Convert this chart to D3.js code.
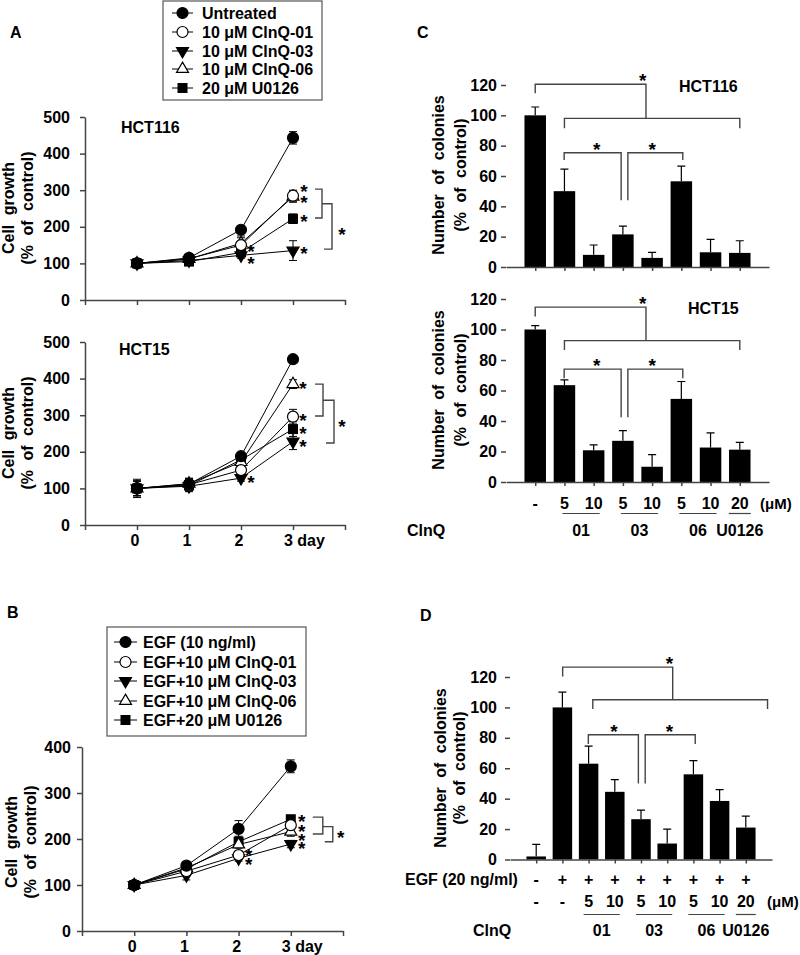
<!DOCTYPE html>
<html><head><meta charset="utf-8">
<script src="https://cdn.jsdelivr.net/npm/d3@7/dist/d3.min.js"></script>
<style>
body{margin:0;background:#fff}
text{font-family:"Liberation Sans",Arial,sans-serif;font-weight:bold;fill:#000}
</style>
</head><body>
<svg id="fig" width="800" height="955"></svg>
<script>
// ---------------- DATA ----------------
const days = [0, 1, 2, 3];
const dayLabels = ["0", "1", "2", "3 day"];
const growthTicksA = [0, 100, 200, 300, 400, 500];
const growthTicksB = [0, 100, 200, 300, 400];
const colonyTicks = [0, 20, 40, 60, 80, 100, 120];

const legendA = ["Untreated", "10 μM ClnQ-01", "10 μM ClnQ-03", "10 μM ClnQ-06", "20 μM U0126"];
const legendB = ["EGF (10 ng/ml)", "EGF+10 μM ClnQ-01", "EGF+10 μM ClnQ-03", "EGF+10 μM ClnQ-06", "EGF+20 μM U0126"];
const markerTypes = ["circle", "circleOpen", "triDown", "triUpOpen", "square"];

// Panel A, HCT116 (rows follow legendA)
const hct116Growth = [[100, 115, 192, 443], [100, 113, 150, 285], [100, 108, 122, 135], [100, 112, 155, 282], [100, 105, 130, 222]];
const hct116GrowthErr = [[12, 5, 8, 17], [10, 5, 20, 15], [10, 5, 8, 27], [10, 5, 20, 15], [10, 5, 8, 13]];
// Panel A, HCT15
const hct15Growth = [[100, 112, 188, 453], [100, 110, 150, 296], [100, 106, 128, 228], [100, 113, 172, 385], [100, 108, 178, 262]];
const hct15GrowthErr = [[25, 15, 8, 4], [20, 15, 8, 20], [20, 15, 8, 22], [20, 15, 8, 12], [20, 15, 8, 20]];
// Panel B, EGF
const egfGrowth = [[100, 142, 222, 358], [100, 130, 165, 230], [100, 121, 158, 189], [100, 137, 188, 216], [100, 135, 194, 243]];
const egfGrowthErr = [[5, 8, 18, 14], [5, 10, 8, 8], [5, 10, 6, 8], [5, 8, 8, 10], [5, 8, 12, 8]];

// Panel C
const doseC = ["-", "5", "10", "5", "10", "5", "10", "20"];
const groupsC = [{label: "01", from: 1, to: 2}, {label: "03", from: 3, to: 4}, {label: "06", from: 5, to: 6}, {label: "U0126", from: 7, to: 7}];
const hct116Colonies = [100, 50, 8, 21.5, 6, 56.5, 9.7, 9.3];
const hct116ColoniesErr = [5.5, 14.5, 6.5, 5.5, 3.7, 10, 8.5, 8];
const hct15Colonies = [100, 63.5, 20.8, 27, 10, 54.5, 22.6, 21.2];
const hct15ColoniesErr = [2.5, 3.5, 3.5, 6.7, 8, 11.4, 9.6, 4.8];

// Panel D
const egfRowD = ["-", "+", "+", "+", "+", "+", "+", "+", "+"];
const doseD = ["-", "-", "5", "10", "5", "10", "5", "10", "20"];
const groupsD = [{label: "01", from: 2, to: 3}, {label: "03", from: 4, to: 5}, {label: "06", from: 6, to: 7}, {label: "U0126", from: 8, to: 8}];
const egfColonies = [2, 100, 63, 44.5, 26.5, 10.5, 56, 38.5, 21];
const egfColoniesErr = [8, 10, 11.5, 8, 6, 9.5, 9, 7.5, 7.5];

// ---------------- DRAWING ----------------
const svg = d3.select("#fig");
const AX = "#444";
const FS = 16;
const SS = 19; // asterisk size

function styleAxis(sel) {
  sel.attr("font-family", null).attr("font-size", null);
  sel.selectAll("path,line").attr("stroke", AX).attr("stroke-width", 1.5);
  sel.selectAll("text").style("font-size", FS + "px").style("fill", "#000");
}

function marker(g, type, x, y) {
  if (type === "circle" || type === "circleOpen") {
    g.append("circle").attr("cx", x).attr("cy", y).attr("r", 5.5)
      .attr("fill", type === "circle" ? "#000" : "#fff").attr("stroke", "#000").attr("stroke-width", 1.2);
  } else if (type === "square") {
    g.append("rect").attr("x", x - 5).attr("y", y - 5).attr("width", 10).attr("height", 10).attr("fill", "#000");
  } else {
    const down = type === "triDown";
    g.append("path").attr("d", d3.symbol(d3.symbolTriangle, 62)())
      .attr("transform", `translate(${x},${y})` + (down ? " rotate(180)" : ""))
      .attr("fill", down ? "#000" : "#fff").attr("stroke", "#000").attr("stroke-width", 1.2);
  }
}

// one text element holding one or more asterisks (stacked significance marks)
function stars(points) {
  const t = svg.append("text").attr("text-anchor", "middle")
    .style("font-size", SS + "px").style("fill", "#000");
  points.forEach(([x, y]) => {
    t.append("tspan").attr("x", x).attr("y", y + 0.56 * SS).text("*");
  });
}

function bracket(d) {
  svg.append("path").attr("d", d).attr("fill", "none").attr("stroke", AX).attr("stroke-width", 1.4);
}

function yTitle(lines, xs, cy) {
  lines.forEach((t, i) => {
    svg.append("text").attr("transform", `translate(${xs[i]},${cy}) rotate(-90)`)
      .attr("text-anchor", "middle").attr("dy", "0.36em")
      .style("font-size", FS + "px").style("word-spacing", "5px").text(t);
  });
}

function label(x, y, t, anchor, size) {
  return svg.append("text").attr("x", x).attr("y", y).attr("text-anchor", anchor || "start")
    .style("font-size", (size || FS) + "px").text(t);
}

function linePanel(o) {
  const x = d3.scaleLinear().domain([-1, 4]).range([o.x0, o.x1]);
  const y = d3.scaleLinear().domain([0, o.yMax]).range([o.yBot, o.yTop]);
  const g = svg.append("g");
  styleAxis(g.append("g").attr("transform", `translate(${o.x0},0)`)
    .call(d3.axisLeft(y).tickValues(o.yTicks).tickSize(5).tickSizeOuter(0).tickPadding(o.pad)));
  styleAxis(g.append("g").attr("transform", `translate(0,${o.yBot})`)
    .call(d3.axisBottom(x).tickValues([-1, 0, 1, 2, 3, 4]).tickSize(5).tickSizeOuter(0).tickFormat(() => "")));
  if (o.xLabels) {
    days.forEach((d, i) => {
      if (i < 3) label(x(d) - 2, o.yBot + 21, dayLabels[i], "middle");
      else label(x(d) - 9, o.yBot + 21, dayLabels[i], "start");
    });
  }
  const line = d3.line().x((v, i) => x(days[i])).y(v => y(v));
  const order = [4, 3, 2, 1, 0];
  order.forEach(si => {
    g.append("path").attr("d", line(o.means[si])).attr("fill", "none").attr("stroke", "#000").attr("stroke-width", 1);
  });
  order.forEach(si => {
    o.means[si].forEach((v, i) => {
      const e = o.errs[si][i], cx = x(days[i]);
      g.append("path").attr("d", `M${cx},${y(v - e)}V${y(v + e)}M${cx - 4},${y(v - e)}H${cx + 4}M${cx - 4},${y(v + e)}H${cx + 4}`)
        .attr("stroke", "#000").attr("stroke-width", 1).attr("fill", "none");
    });
  });
  order.forEach(si => {
    o.means[si].forEach((v, i) => marker(g, markerTypes[si], x(days[i]), y(v)));
  });
  return {x, y};
}

function legend(names, bx, by, bw, bh, rows, lx1, lx2, tx) {
  svg.append("rect").attr("x", bx).attr("y", by).attr("width", bw).attr("height", bh)
    .attr("fill", "#fff").attr("stroke", "#555").attr("stroke-width", 1.2);
  const g = svg.append("g");
  names.forEach((n, i) => {
    const yy = rows[i];
    g.append("line").attr("x1", lx1).attr("x2", lx2).attr("y1", yy).attr("y2", yy).attr("stroke", "#000").attr("stroke-width", 1);
    marker(g, markerTypes[i], (lx1 + lx2) / 2, yy);
    label(tx, yy + 5.8, n, "start");
  });
}

function barPanel(o) {
  const n = o.values.length;
  const x = d3.scalePoint().domain(d3.range(n)).range([o.x0, o.x1]).padding(1);
  const y = d3.scaleLinear().domain([0, 120]).range([o.yBot, o.yTop]);
  const g = svg.append("g");
  styleAxis(g.append("g").attr("transform", `translate(${o.x0},0)`)
    .call(d3.axisLeft(y).tickValues(colonyTicks).tickSize(5).tickSizeOuter(0).tickPadding(o.pad)));
  o.values.forEach((v, i) => {
    const e = o.errs[i], cx = x(i);
    g.append("path").attr("d", `M${cx},${y(v)}V${y(v + e)}M${cx - 4},${y(v + e)}H${cx + 4}`)
      .attr("stroke", "#000").attr("stroke-width", 1.2).attr("fill", "none");
    g.append("rect").attr("x", cx - o.bw / 2).attr("y", y(v)).attr("width", o.bw).attr("height", y(0) - y(v)).attr("fill", "#000");
  });
  styleAxis(g.append("g").attr("transform", `translate(0,${o.yBot})`)
    .call(d3.axisBottom(x).tickSize(4).tickSizeOuter(0).tickFormat(() => "")));
  g.select("path.domain").attr("d", `M${o.x0},0H${o.x1}`);
  const xf = f => x(0) + f * x.step();
  return {x, y, xf};
}

// ---------- Panel A ----------
label(10, 38, "A");
legend(legendA, 163, 1, 159, 99, [13, 32, 51, 69, 88], 172, 193, 202);

const a1 = linePanel({x0: 85, x1: 345, yTop: 117, yBot: 300, yMax: 500, yTicks: growthTicksA, pad: 10,
  means: hct116Growth, errs: hct116GrowthErr, xLabels: false});
label(121, 133, "HCT116");
yTitle(["Cell growth", "(% of control)"], [8, 27], 208);
{
  const X3 = a1.x(3), y = a1.y;
  stars([309, 278, 226, 138].map(v => [X3 + 11, y(v)]));
  stars([145, 112].map(v => [a1.x(2) + 10, y(v)]));
  bracket(`M${X3 + 22},${y(303)}H${X3 + 29}V${y(224)}H${X3 + 22}`);
  bracket(`M${X3 + 29},${y(263)}H${X3 + 39}V${y(139)}H${X3 + 31}`);
  stars([[X3 + 49, y(191)]]);
}

const a2 = linePanel({x0: 85, x1: 345, yTop: 342, yBot: 525, yMax: 500, yTicks: growthTicksA, pad: 10,
  means: hct15Growth, errs: hct15GrowthErr, xLabels: true});
label(119, 355, "HCT15");
yTitle(["Cell growth", "(% of control)"], [8, 27], 433);
{
  const X3 = a2.x(3), y = a2.y;
  stars([385, 298, 262, 227].map(v => [X3 + 10, y(v)]));
  stars([[a2.x(2) + 10, y(128)]]);
  bracket(`M${X3 + 22},${y(385)}H${X3 + 30}V${y(298)}H${X3 + 22}`);
  bracket(`M${X3 + 30},${y(341)}H${X3 + 41}V${y(224)}H${X3 + 33}`);
  stars([[X3 + 49, y(281)]]);
}

// ---------- Panel B ----------
label(7, 618, "B");
legend(legendB, 107, 627, 199, 109, [642, 662, 681, 701, 720], 114, 137, 143);
const b1 = linePanel({x0: 82, x1: 343, yTop: 747, yBot: 931, yMax: 400, yTicks: growthTicksB, pad: 6,
  means: egfGrowth, errs: egfGrowthErr, xLabels: true});
yTitle(["Cell growth", "(% of control)"], [11, 30], 842);
{
  const X3 = b1.x(3), y = b1.y;
  stars([247.6, 225.8, 206.8, 187.3].map(v => [X3 + 11, y(v)]));
  stars([172.5, 154.4].map(v => [b1.x(2) + 10, y(v)]));
  bracket(`M${X3 + 22},${y(247.6)}H${X3 + 32}V${y(211)}H${X3 + 22}`);
  bracket(`M${X3 + 32},${y(227)}H${X3 + 42}V${y(194)}H${X3 + 34}`);
  stars([[X3 + 50, y(212.7)]]);
}

// ---------- Panel C ----------
label(417, 38, "C");
function colonyAnnot(p, topY, topDrop, midY, secDrop, innerTop, innerDrop, innerMid, starTop, starInner) {
  const {xf, y} = p;
  bracket(`M${xf(0)},${y(topDrop)}V${y(topY)}H${xf(3.79)}V${y(midY)}`);
  bracket(`M${xf(1)},${y(secDrop)}V${y(midY)}H${xf(7)}V${y(secDrop)}`);
  stars([[xf(3.68), y(starTop)]]);
  bracket(`M${xf(0.99)},${y(innerDrop)}V${y(innerTop)}H${xf(2.94)}V${y(innerMid)}`);
  bracket(`M${xf(3.17)},${y(innerMid)}V${y(innerTop)}H${xf(5.05)}V${y(innerDrop)}`);
  stars([[xf(2.1), y(starInner)]]);
  stars([[xf(4.0), y(starInner)]]);
}
const c1 = barPanel({x0: 506, x1: 769, yTop: 85, yBot: 267, values: hct116Colonies, errs: hct116ColoniesErr, bw: 21.5, pad: 4});
label(679, 92, "HCT116");
yTitle(["Number of colonies", "(% of control)"], [438, 460], 175);
colonyAnnot(c1, 120.5, 114.5, 98, 91.5, 75.3, 70.5, 44, 125.5, 80.4);

const c2 = barPanel({x0: 506, x1: 769, yTop: 299, yBot: 482, values: hct15Colonies, errs: hct15ColoniesErr, bw: 21.5, pad: 4});
label(688, 314, "HCT15");
yTitle(["Number of colonies", "(% of control)"], [438, 460], 390);
colonyAnnot(c2, 114.7, 108.5, 92.7, 86.6, 74, 68, 42.4, 119.5, 79);
doseC.forEach((t, i) => label(c2.x(i), 508.5, t, "middle"));
label(760, 508.5, "(μM)", "start", 15);
label(407, 536, "ClnQ", "start");
groupsC.forEach(gr => {
  const a = c2.x(gr.from), b = c2.x(gr.to);
  const l = gr.from === gr.to ? a - 11 : a - 2, r = gr.from === gr.to ? b + 11 : b + 6;
  svg.append("line").attr("x1", l).attr("x2", r).attr("y1", 513.5).attr("y2", 513.5).attr("stroke", AX).attr("stroke-width", 1.2);
  label((l + r) / 2, 536, gr.label, "middle");
});

// ---------- Panel D ----------
label(420, 621, "D");
const d1 = barPanel({x0: 510, x1: 772, yTop: 677, yBot: 859.5, values: egfColonies, errs: egfColoniesErr, bw: 19.5, pad: 8});
yTitle(["Number of colonies", "(% of control)"], [440, 459], 768);
{
  const {xf, y} = d1;
  bracket(`M${xf(1.01)},${y(120.4)}V${y(126.5)}H${xf(5.21)}V${y(105)}`);
  bracket(`M${xf(2.16)},${y(99)}V${y(105)}H${xf(8.83)}V${y(99)}`);
  stars([[xf(5.09), y(131.4)]]);
  bracket(`M${xf(1.99)},${y(76)}V${y(82)}H${xf(3.9)}V${y(50)}`);
  bracket(`M${xf(4.16)},${y(50)}V${y(82)}H${xf(6.07)}V${y(76)}`);
  stars([[xf(2.97), y(87.1)]]);
  stars([[xf(5.09), y(87.1)]]);
}
label(405, 885, "EGF (20 ng/ml)", "start");
egfRowD.forEach((t, i) => label(d1.x(i), 885, t, "middle"));
doseD.forEach((t, i) => label(d1.x(i), 907, t, "middle"));
label(767, 907, "(μM)", "start", 15);
label(473, 936, "ClnQ", "start");
groupsD.forEach(gr => {
  const a = d1.x(gr.from), b = d1.x(gr.to);
  const l = gr.from === gr.to ? a - 10 : a - 5, r = gr.from === gr.to ? b + 10 : b + 5;
  svg.append("line").attr("x1", l).attr("x2", r).attr("y1", 914.5).attr("y2", 914.5).attr("stroke", AX).attr("stroke-width", 1.2);
  label((l + r) / 2, 936, gr.label, "middle");
});
</script>
</body></html>
